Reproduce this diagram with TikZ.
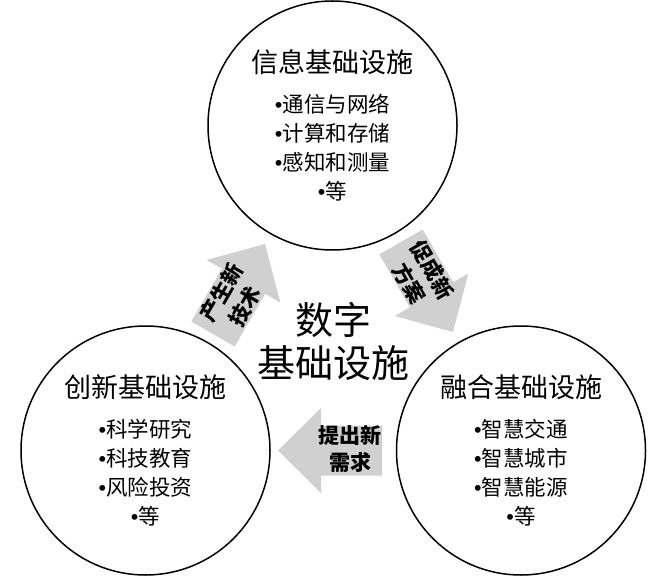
\documentclass[tikz,border=0pt]{standalone}
\usepackage{fontspec}
\newfontfamily\cjk{Noto Sans CJK SC}
\newfontfamily\bulfont{Liberation Sans}
\newcommand\bul{{\bulfont •}}
\definecolor{arrowgray}{RGB}{208,208,208}
\tikzset{
  circ/.style={circle, draw=black, line width=1.5pt, minimum size=249pt, inner sep=0pt},
  ctitle/.style={font=\cjk\fontsize{27}{30}\selectfont, inner sep=0pt},
  citems/.style={font=\cjk\fontsize{21.5}{29}\selectfont, align=center, inner sep=0pt},
  arrowfill/.style={fill=arrowgray},
  arrowtext/.style={font=\cjk\bfseries\fontsize{21}{27}\selectfont, align=center, inner sep=0pt},
  maintext/.style={font=\cjk\fontsize{38}{43}\selectfont, align=center, inner sep=0pt},
}
\begin{document}
\begin{tikzpicture}[x=1pt,y=1pt]
\useasboundingbox (0,0) rectangle (671,576);
% circles
\node[circ] (info) at (332.5,450.5) {};
\node[circ] (inno) at (145.5,125.5) {};
\node[circ] (fuse) at (521,125.5) {};
% titles
\node[ctitle] (infoT) at ([yshift=63pt]info.center) {信息基础设施};
\node[ctitle] (innoT) at ([yshift=63pt]inno.center) {创新基础设施};
\node[ctitle] (fuseT) at ([yshift=63pt]fuse.center) {融合基础设施};
% items
\node[citems] (infoL) at ([yshift=-22.5pt]info.center) {\bul 通信与网络\\\bul 计算和存储\\\bul 感知和测量\\\bul 等};
\node[citems] (innoL) at ([yshift=-22.5pt]inno.center) {\bul 科学研究\\\bul 科技教育\\\bul 风险投资\\\bul 等};
\node[citems] (fuseL) at ([yshift=-22.5pt]fuse.center) {\bul 智慧交通\\\bul 智慧城市\\\bul 智慧能源\\\bul 等};
% centre
\node[maintext] (core) at (333,234.5) {数字\\基础设施};
% arrows
\begin{scope}[shift={(239,287)}, rotate=60]
  \fill[arrowfill] (-52,-25) -- (9,-25) -- (9,-42.5) -- (52,0) -- (9,42.5) -- (9,25) -- (-52,25) -- cycle;
  \node[arrowtext, rotate=60] (a1) at (-12,0) {产生新\\技术};
\end{scope}
\begin{scope}[shift={(427,289)}, rotate=-60]
  \fill[arrowfill] (-52,-25) -- (9,-25) -- (9,-42.5) -- (52,0) -- (9,42.5) -- (9,25) -- (-52,25) -- cycle;
  \node[arrowtext, rotate=-60] (a2) at (-12,0) {促成新\\方案};
\end{scope}
\begin{scope}[shift={(330,125.5)}, rotate=180]
  \fill[arrowfill] (-52,-25) -- (9,-25) -- (9,-42.5) -- (52,0) -- (9,42.5) -- (9,25) -- (-52,25) -- cycle;
  \node[arrowtext] (a3) at (-20,-2) {提出新\\需求};
\end{scope}
\end{tikzpicture}
\end{document}
